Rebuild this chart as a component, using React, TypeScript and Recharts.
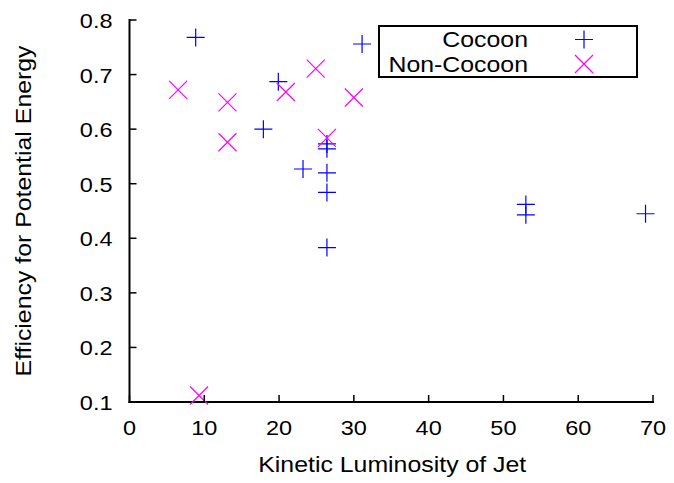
import React from 'react';
import { ScatterChart, Scatter, XAxis, YAxis, Legend } from 'recharts';

// Kinetic luminosity (x) and efficiency (y)
const cocoonX = [8.85, 19.9, 17.9, 23.2, 26.4, 26.4, 26.4, 26.4, 26.4, 31.1, 53.0, 53.0, 69.0];
const cocoonY = [0.768, 0.687, 0.6, 0.527, 0.573, 0.564, 0.52, 0.484, 0.383, 0.756, 0.462, 0.443, 0.445];
const nonCocoonX = [6.5, 13.1, 13.1, 20.9, 24.9, 26.4, 30.0, 9.3];
const nonCocoonY = [0.672, 0.649, 0.576, 0.668, 0.711, 0.584, 0.658, 0.112];

const xTicks = [0, 10, 20, 30, 40, 50, 60, 70];
const yTicks = [0.1, 0.2, 0.3, 0.4, 0.5, 0.6, 0.7, 0.8];

const cocoonData = cocoonX.map((x, i) => ({ x, y: cocoonY[i] }));
const nonCocoonData = nonCocoonX.map((x, i) => ({ x, y: nonCocoonY[i] }));

const FONT = '"Liberation Sans", Arial, sans-serif';
const BLUE = '#0000ff';
const MAGENTA = '#ff00ff';
const STRETCH = 'scale(1.12,1)';
const TICK = 7;

const Plus = ({ cx, cy }: any) => (
    <path d={`M${cx - 9},${cy}H${cx + 9}M${cx},${cy - 9}V${cy + 9}`} stroke={BLUE} strokeWidth={1.2} fill="none" />
);

const Cross = ({ cx, cy }: any) => (
    <path
        d={`M${cx - 9},${cy - 9}L${cx + 9},${cy + 9}M${cx + 9},${cy - 9}L${cx - 9},${cy + 9}`}
        stroke={MAGENTA}
        strokeWidth={1.2}
        fill="none"
    />
);

const BottomTick = ({ x, y, payload }: any) => (
    <g>
        <line x1={x} y1={y} x2={x} y2={y - TICK} stroke="#000" strokeWidth={1.5} />
        <text transform={`translate(${x},${y + 33}) ${STRETCH}`} textAnchor="middle" fontFamily={FONT} fontSize={21} fill="#000">
            {payload.value}
        </text>
    </g>
);

const LeftTick = ({ x, y, payload }: any) => (
    <g>
        <line x1={x} y1={y} x2={x + TICK} y2={y} stroke="#000" strokeWidth={1.5} />
        <text transform={`translate(${x - 17},${y + 8}) ${STRETCH}`} textAnchor="end" fontFamily={FONT} fontSize={21} fill="#000">
            {Number(payload.value).toFixed(1)}
        </text>
    </g>
);

const TopTick = ({ x, y }: any) => <line x1={x} y1={y} x2={x} y2={y + TICK} stroke="#000" strokeWidth={1.5} />;
const RightTick = ({ x, y }: any) => <line x1={x} y1={y} x2={x - TICK} y2={y} stroke="#000" strokeWidth={1.5} />;

const XLabel = ({ viewBox }: any) => (
    <text
        transform={`translate(${viewBox.x + viewBox.width / 2 + 1},${viewBox.y + 70}) scale(1.13,1)`}
        textAnchor="middle"
        fontFamily={FONT}
        fontSize={22}
        fill="#000"
    >
        Kinetic Luminosity of Jet
    </text>
);

const YLabel = ({ viewBox }: any) => (
    <text
        transform={`translate(31,${viewBox.y + viewBox.height / 2}) rotate(-90) scale(1.13,1)`}
        textAnchor="middle"
        fontFamily={FONT}
        fontSize={22}
        fill="#000"
    >
        Efficiency for Potential Energy
    </text>
);

const renderLegend = () => (
    <svg width={261} height={54} style={{ display: 'block' }}>
        <rect x={1} y={1} width={258} height={51} fill="#fff" stroke="#000" strokeWidth={2} />
        <text transform={`translate(150,21.5) scale(1.13,1)`} textAnchor="end" fontFamily={FONT} fontSize={22} fill="#000">
            Cocoon
        </text>
        <text transform={`translate(150,47) scale(1.13,1)`} textAnchor="end" fontFamily={FONT} fontSize={22} fill="#000">
            Non-Cocoon
        </text>
        <Plus cx={206} cy={14.5} />
        <Cross cx={206} cy={39} />
    </svg>
);

const frame = { stroke: '#000', strokeWidth: 2, strokeLinecap: 'square' as const };

export default function App() {
    return (
        <div style={{ position: 'relative', width: 674, height: 483, background: '#fff' }}>
            <style>{`body { margin: 0; }`}</style>
            <ScatterChart width={674} height={483} margin={{ top: 20, right: 21, bottom: 0, left: 0 }}>
                <XAxis
                    xAxisId="b"
                    type="number"
                    dataKey="x"
                    domain={[0, 70]}
                    ticks={xTicks}
                    interval={0}
                    height={81}
                    tickSize={0}
                    tickMargin={0}
                    tickLine={false}
                    tick={<BottomTick />}
                    axisLine={frame}
                    label={<XLabel />}
                />
                <XAxis
                    xAxisId="t"
                    orientation="top"
                    type="number"
                    dataKey="x"
                    domain={[0, 70]}
                    ticks={xTicks}
                    interval={0}
                    height={0}
                    tickSize={0}
                    tickMargin={0}
                    tickLine={false}
                    tick={<TopTick />}
                    axisLine={frame}
                />
                <YAxis
                    yAxisId="l"
                    type="number"
                    dataKey="y"
                    domain={[0.1, 0.8]}
                    ticks={yTicks}
                    interval={0}
                    width={129.5}
                    tickSize={0}
                    tickMargin={0}
                    tickLine={false}
                    tick={<LeftTick />}
                    axisLine={frame}
                    label={<YLabel />}
                />
                <YAxis
                    yAxisId="r"
                    orientation="right"
                    type="number"
                    dataKey="y"
                    domain={[0.1, 0.8]}
                    ticks={yTicks}
                    interval={0}
                    width={0}
                    tickSize={0}
                    tickMargin={0}
                    tickLine={false}
                    tick={<RightTick />}
                    axisLine={frame}
                />
                <Legend
                    verticalAlign="middle"
                    content={renderLegend}
                    wrapperStyle={{ position: 'absolute', left: 378, top: 25, width: 261, height: 54 }}
                />
                <Scatter name="Cocoon" data={cocoonData} xAxisId="b" yAxisId="l" shape={<Plus />} isAnimationActive={false} />
                <Scatter name="Non-Cocoon" data={nonCocoonData} xAxisId="b" yAxisId="l" shape={<Cross />} isAnimationActive={false} />
            </ScatterChart>
        </div>
    );
}
